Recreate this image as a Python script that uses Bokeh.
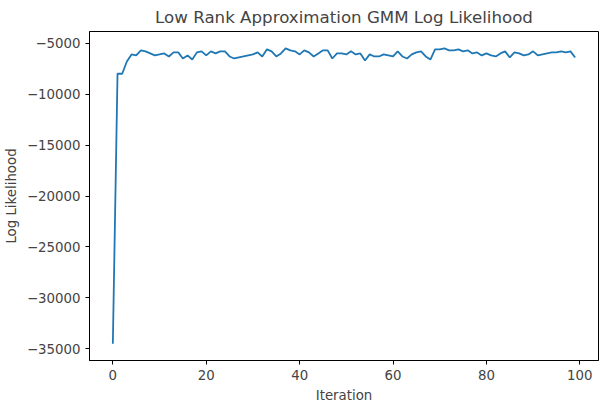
from bokeh.embed import file_html
from bokeh.models import FixedTicker, Range1d
from bokeh.plotting import figure
from bokeh.resources import INLINE

iterations = list(range(100))
log_likelihood = [
    -34500, -8000, -8000, -6800, -6100, -6200, -5700, -5800, -6000, -6200,
    -6100, -6000, -6300, -5900, -5900, -6500, -6200, -6600, -5900, -5800,
    -6200, -5800, -6000, -5800, -5800, -6300, -6500, -6400, -6300, -6200,
    -6100, -5900, -6300, -5600, -5800, -6300, -6000, -5500, -5700, -5800,
    -6100, -5700, -5900, -6300, -6000, -5700, -5700, -6500, -6000, -6000,
    -6100, -5800, -6100, -6000, -6700, -6100, -6300, -6300, -6100, -6200,
    -6300, -5800, -6300, -6500, -6100, -5900, -5800, -6300, -6600, -5600,
    -5600, -5500, -5700, -5700, -5600, -5800, -5700, -6000, -5900, -6200,
    -6000, -6200, -6300, -6000, -5800, -6400, -5900, -6000, -6200, -6100,
    -5800, -6200, -6100, -6000, -5900, -5900, -5800, -5900, -5800, -6400,
]
x_ticks = [0, 20, 40, 60, 80, 100]
y_ticks = [-35000, -30000, -25000, -20000, -15000, -10000, -5000]

p = figure(width=600, height=405, output_backend="svg", toolbar_location=None,
           title="Low Rank Approximation GMM Log Likelihood",
           x_range=Range1d(-5, 104), y_range=Range1d(-36150, -3850),
           min_border_left=18, min_border_right=2)
p.title.align = "center"
p.title.text_font = "DejaVu Sans"
p.title.text_font_style = "normal"
p.title.text_font_size = "12.5pt"

p.line(iterations, log_likelihood, line_color="#1f77b4", line_width=1.8)

p.xgrid.visible = False
p.ygrid.visible = False
p.outline_line_color = "black"
p.xaxis.ticker = FixedTicker(ticks=x_ticks)
p.yaxis.ticker = FixedTicker(ticks=y_ticks)
p.xaxis.axis_label = "Iteration"
p.yaxis.axis_label = "Log Likelihood"
for ax in (p.xaxis, p.yaxis):
    ax.axis_label_text_font_style = "normal"
    ax.axis_label_text_font = "DejaVu Sans"
    ax.axis_label_text_font_size = "10pt"
    ax.major_label_text_font = "DejaVu Sans"
    ax.major_label_text_font_size = "10pt"
    ax.minor_tick_line_color = None
    ax.major_tick_in = 0
    ax.major_tick_out = 4
    ax.major_tick_line_color = "black"
    ax.axis_line_color = "black"
p.yaxis.major_label_orientation = "horizontal"

open("out.html", "w").write(file_html(p, INLINE))
